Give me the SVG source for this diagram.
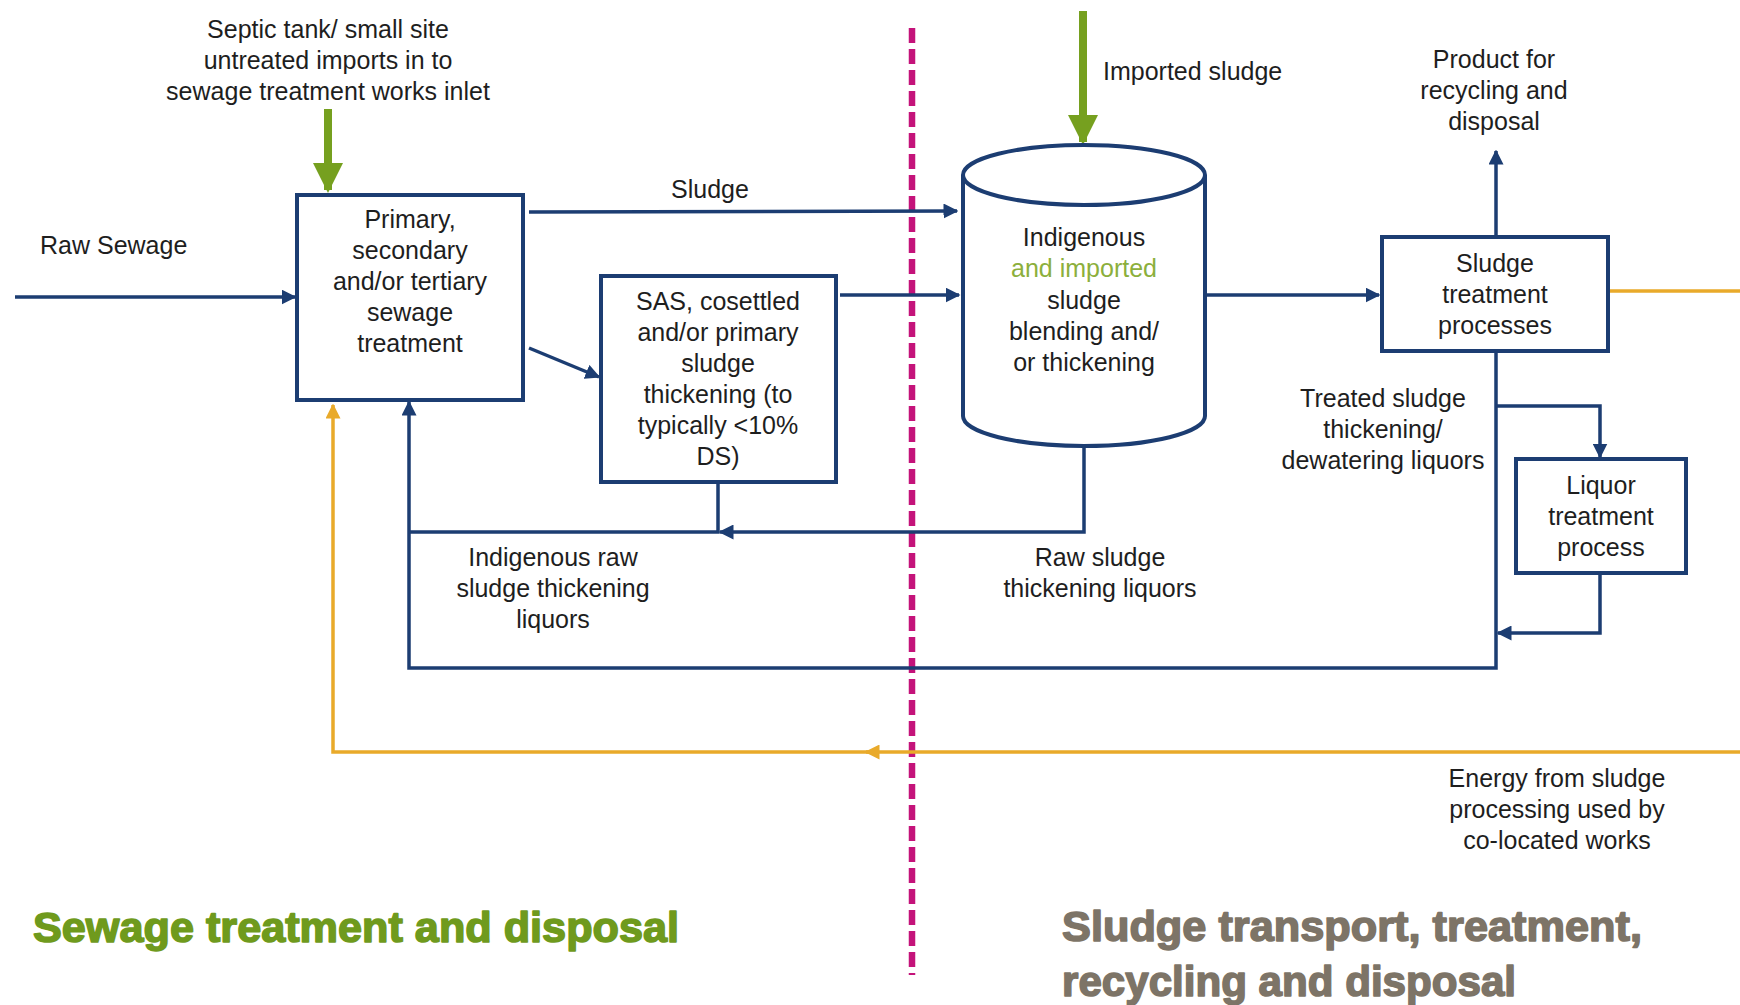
<svg xmlns="http://www.w3.org/2000/svg" width="1740" height="1005" viewBox="0 0 1740 1005">
<defs>
<style>
.t{font-family:"Liberation Sans",Arial,sans-serif;font-size:25px;fill:#1e1e1e;text-anchor:middle}
.box{fill:#fff;stroke:#1c3d72;stroke-width:4}
.c{fill:none;stroke:#1c3d72;stroke-width:3.5}
.y{fill:none;stroke:#e9aa2a;stroke-width:3.5}
.g{fill:none;stroke:#76a01f;stroke-width:8}
.title{font-family:"Liberation Sans",Arial,sans-serif;font-weight:bold;font-size:43px;stroke-width:1.6;stroke-linejoin:round}
</style>
<marker id="ab" viewBox="0 0 10 10" refX="9" refY="5" markerWidth="15" markerHeight="15" markerUnits="userSpaceOnUse" orient="auto"><path d="M0,0L10,5L0,10z" fill="#1c3d72"/></marker>
<marker id="ay" viewBox="0 0 10 10" refX="9" refY="5" markerWidth="15" markerHeight="15" markerUnits="userSpaceOnUse" orient="auto"><path d="M0,0L10,5L0,10z" fill="#e9aa2a"/></marker>
<marker id="ag" viewBox="0 0 10 10" refX="9" refY="5" markerWidth="30" markerHeight="30" markerUnits="userSpaceOnUse" orient="auto"><path d="M0,0L10,5L0,10z" fill="#76a01f"/></marker>
</defs>
<rect width="1740" height="1005" fill="#fff"/>

<g id="divider">
<line x1="912" y1="28" x2="912" y2="975" stroke="#c4137a" stroke-width="6.5" stroke-dasharray="15,6"/>
</g>

<g id="connectors">
<path class="c" d="M15,297H295" marker-end="url(#ab)"/>
<path class="c" d="M529,212L957,211" marker-end="url(#ab)"/>
<path class="c" d="M529,348L599,377" marker-end="url(#ab)"/>
<path class="c" d="M840,295H959" marker-end="url(#ab)"/>
<path class="c" d="M1207,295H1379" marker-end="url(#ab)"/>
<path class="c" d="M1496,237V151" marker-end="url(#ab)"/>
<path class="c" d="M1496,351V668H409V402" marker-end="url(#ab)"/>
<path class="c" d="M1496,406H1600V457" marker-end="url(#ab)"/>
<path class="c" d="M1600,573V633H1498" marker-end="url(#ab)"/>
<path class="c" d="M1084,446V532H720" marker-end="url(#ab)"/>
<path class="c" d="M718,482V532H409"/>
<path class="y" d="M1608,291H1746V752H866" marker-end="url(#ay)"/>
<path class="y" d="M868,752H333V405" marker-end="url(#ay)"/>
<path class="g" d="M328,109V190" marker-end="url(#ag)"/>
<path class="g" d="M1083,11V142" marker-end="url(#ag)"/>
</g>

<g id="septic-label">
<text class="t" x="328" y="38">Septic tank/ small site</text>
<text class="t" x="328" y="69">untreated imports in to</text>
<text class="t" x="328" y="100">sewage treatment works inlet</text>
</g>
<g id="raw-sewage-label"><text class="t" x="40" y="254" style="text-anchor:start">Raw Sewage</text></g>

<g id="primary">
<rect class="box" x="297" y="195" width="226" height="205"/>
<text class="t" x="410" y="228">Primary,</text>
<text class="t" x="410" y="259">secondary</text>
<text class="t" x="410" y="290">and/or tertiary</text>
<text class="t" x="410" y="321">sewage</text>
<text class="t" x="410" y="352">treatment</text>
</g>

<g id="sludge-label"><text class="t" x="710" y="198">Sludge</text></g>

<g id="sas">
<rect class="box" x="601" y="276" width="235" height="206"/>
<text class="t" x="718" y="310">SAS, cosettled</text>
<text class="t" x="718" y="341">and/or primary</text>
<text class="t" x="718" y="372">sludge</text>
<text class="t" x="718" y="403">thickening (to</text>
<text class="t" x="718" y="434">typically &lt;10%</text>
<text class="t" x="718" y="465">DS)</text>
</g>

<g id="blending">
<path d="M963,175V416A121,30 0 0 0 1205,416V175" fill="#fff" stroke="#1c3d72" stroke-width="4"/>
<ellipse cx="1084" cy="175" rx="121" ry="30" fill="#fff" stroke="#1c3d72" stroke-width="4"/>
<text class="t" x="1084" y="246">Indigenous</text>
<text class="t" x="1084" y="277" style="fill:#8caf3c">and imported</text>
<text class="t" x="1084" y="309">sludge</text>
<text class="t" x="1084" y="340">blending and/</text>
<text class="t" x="1084" y="371">or thickening</text>
</g>

<g id="imported-label"><text class="t" x="1103" y="80" style="text-anchor:start">Imported sludge</text></g>

<g id="product-label">
<text class="t" x="1494" y="68">Product for</text>
<text class="t" x="1494" y="99">recycling and</text>
<text class="t" x="1494" y="130">disposal</text>
</g>

<g id="sludge-treatment">
<rect class="box" x="1382" y="237" width="226" height="114"/>
<text class="t" x="1495" y="272">Sludge</text>
<text class="t" x="1495" y="303">treatment</text>
<text class="t" x="1495" y="334">processes</text>
</g>

<g id="treated-label">
<text class="t" x="1383" y="407">Treated sludge</text>
<text class="t" x="1383" y="438">thickening/</text>
<text class="t" x="1383" y="469">dewatering liquors</text>
</g>

<g id="liquor">
<rect class="box" x="1516" y="459" width="170" height="114"/>
<text class="t" x="1601" y="494">Liquor</text>
<text class="t" x="1601" y="525">treatment</text>
<text class="t" x="1601" y="556">process</text>
</g>

<g id="indigenous-label">
<text class="t" x="553" y="566">Indigenous raw</text>
<text class="t" x="553" y="597">sludge thickening</text>
<text class="t" x="553" y="628">liquors</text>
</g>

<g id="raw-sludge-label">
<text class="t" x="1100" y="566">Raw sludge</text>
<text class="t" x="1100" y="597">thickening liquors</text>
</g>

<g id="energy-label">
<text class="t" x="1557" y="787">Energy from sludge</text>
<text class="t" x="1557" y="818">processing used by</text>
<text class="t" x="1557" y="849">co-located works</text>
</g>

<g id="titles">
<text class="title" x="33" y="942" fill="#6f9a1d" stroke="#6f9a1d" textLength="646" lengthAdjust="spacingAndGlyphs">Sewage treatment and disposal</text>
<text class="title" x="1062" y="941" fill="#7d7467" stroke="#7d7467" textLength="580" lengthAdjust="spacingAndGlyphs">Sludge transport, treatment,</text>
<text class="title" x="1062" y="996" fill="#7d7467" stroke="#7d7467" textLength="454" lengthAdjust="spacingAndGlyphs">recycling and disposal</text>
</g>
</svg>
